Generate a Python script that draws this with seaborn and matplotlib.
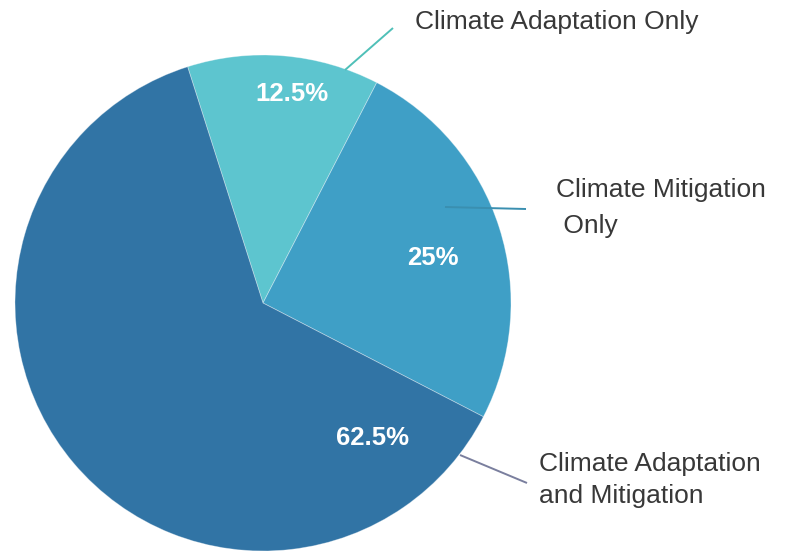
import numpy as np
import matplotlib
matplotlib.use("Agg")
import matplotlib.pyplot as plt
import seaborn as sns

# Share of projects by climate focus
categories = ["Climate Adaptation Only", "Climate Mitigation\n Only", "Climate Adaptation\nand Mitigation"]
shares = [12.5, 25, 62.5]
pct_labels = ["12.5%", "25%", "62.5%"]
colors = ["#5dc5cf", "#3f9fc6", "#3174a5"]
leader_colors = ["#4fc0b8", "#3a8fb0", "#7a7f9e"]

sns.set_theme(style="white")
plt.rcParams["font.family"] = ["Liberation Sans", "DejaVu Sans"]

W, H = 788, 555
fig = plt.figure(figsize=(W / 100, H / 100), dpi=100)
ax = fig.add_axes([0, 0, 1, 1])

cx, cy, R = 263, H - 303, 248
start = 107.7
wedges, _ = ax.pie(shares, colors=colors, startangle=start, counterclock=False,
                   radius=R, center=(cx, cy), frame=True,
                   wedgeprops=dict(linewidth=0.6, edgecolor="#ffffff60"))
ax.set_xlim(0, W)
ax.set_ylim(0, H)
ax.set_aspect("equal")
ax.axis("off")

# percentage labels: (angle in degrees, radius fraction)
pct_pos = [(82.0, 0.85), (14.8, 0.71), (-51.0, 0.70)]
for txt, (ang, rf) in zip(pct_labels, pct_pos):
    a = np.deg2rad(ang)
    ax.text(cx + rf * R * np.cos(a), cy + rf * R * np.sin(a), txt,
            ha="center", va="center", color="white", fontsize=18.5,
            fontweight="bold")

# leader lines and category labels
leader_start = [(345, 70), (445, 207), (460, 455)]
leader_end = [(393, 28), (526, 209), (527, 483)]
label_pos = [(415, 22), (556, 208), (539, 480)]
label_spacing = [1.0, 1.6, 1.47]
for name, p0, p1, lp, lc, ls in zip(categories, leader_start, leader_end,
                                    label_pos, leader_colors, label_spacing):
    ax.plot([p0[0], p1[0]], [H - p0[1], H - p1[1]], color=lc, lw=1.4,
            solid_capstyle="butt")
    ax.text(lp[0], H - lp[1], name, ha="left", va="center", fontsize=19,
            color="#383838", linespacing=ls)

fig.savefig("out.png", dpi=100)
